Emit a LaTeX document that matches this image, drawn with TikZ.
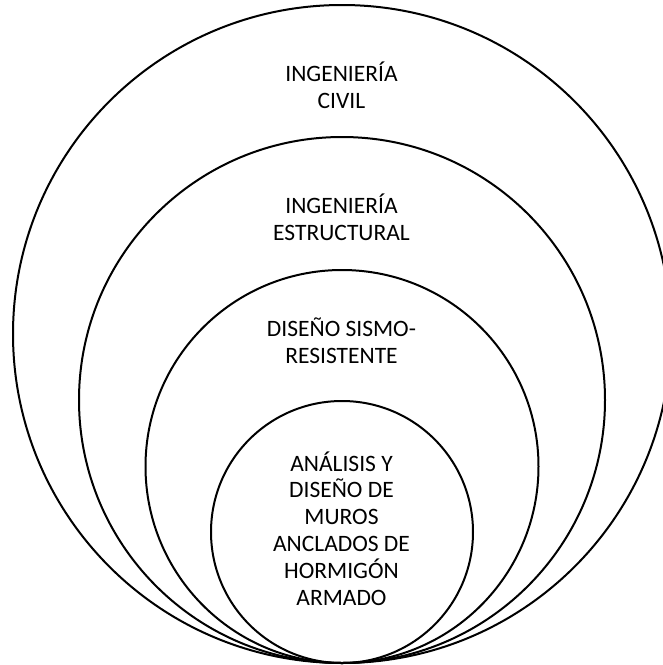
\documentclass[tikz,border=0pt]{standalone}
\usepackage{fontspec}
\setmainfont{Carlito}
\begin{document}
\begin{tikzpicture}[x=1pt,y=-1pt,
  ring/.style={circle, draw, line width=2pt, inner sep=0pt},
  lbl/.style={align=center, anchor=base, font=\fontsize{23.5}{26.8}\selectfont}]
\useasboundingbox (0,0) rectangle (663,665);
\clip (0,0) rectangle (663,665);
\node[ring, minimum size=658pt] (civil) at (342,334) {};
\node[ring, minimum size=526pt] (estr) at (342,400) {};
\node[ring, minimum size=393pt] (sismo) at (342,466.5) {};
\node[ring, minimum size=262pt] (muros) at (342,532) {};
\node[lbl] (tcivil) at (341.5,108.5) {INGENIERÍA\\CIVIL};
\node[lbl] (testr) at (341.5,240) {INGENIERÍA\\ESTRUCTURAL};
\node[lbl] (tsismo) at (341.5,363.5) {DISEÑO SISMO-\\RESISTENTE};
\node[lbl] (tmuros) at (341.5,605) {ANÁLISIS Y\\DISEÑO DE\\MUROS\\ANCLADOS DE\\HORMIGÓN\\ARMADO};
\end{tikzpicture}
\end{document}
